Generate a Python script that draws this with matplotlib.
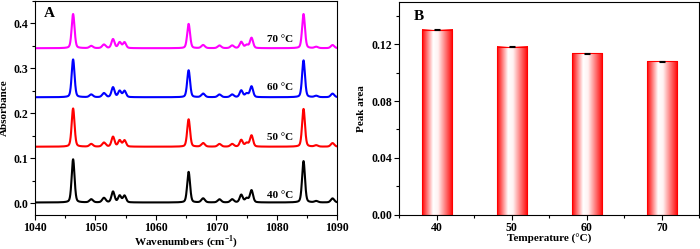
import numpy as np
import matplotlib
matplotlib.use('Agg')
import matplotlib.pyplot as plt
from matplotlib.colors import LinearSegmentedColormap
from matplotlib.ticker import MultipleLocator

plt.rcParams['font.family'] = 'Liberation Serif'
plt.rcParams['font.weight'] = 'bold'
plt.rcParams['axes.labelweight'] = 'bold'
plt.rcParams['mathtext.fontset'] = 'custom'
plt.rcParams['mathtext.bf'] = 'Liberation Serif:bold'
plt.rcParams['mathtext.rm'] = 'Liberation Serif:bold'

# panel A: peak table (cm-1, absorbance above baseline)
centers = [1046.3, 1049.3, 1051.4, 1052.9, 1054.0, 1054.8, 1065.4, 1067.8,
           1070.5, 1072.6, 1074.1, 1075.0, 1075.8, 1084.4, 1086.5, 1089.2]
widths = [0.28, 0.34, 0.34, 0.3, 0.3, 0.3, 0.28, 0.34,
          0.34, 0.34, 0.3, 0.32, 0.3, 0.28, 0.34, 0.34]
temps = ['40 °C', '50 °C', '60 °C', '70 °C']
colors = ['black', '#ff0000', '#0000ff', '#ff00ff']
baselines = [0.002, 0.126, 0.236, 0.345]
heights = [
    [0.096, 0.007, 0.010, 0.024, 0.015, 0.015, 0.068, 0.009, 0.007, 0.007, 0.017, 0.009, 0.027, 0.092, 0.003, 0.009],
    [0.085, 0.006, 0.009, 0.022, 0.014, 0.014, 0.061, 0.008, 0.006, 0.006, 0.015, 0.008, 0.025, 0.084, 0.003, 0.008],
    [0.084, 0.006, 0.009, 0.022, 0.014, 0.014, 0.060, 0.008, 0.006, 0.006, 0.015, 0.008, 0.024, 0.082, 0.003, 0.008],
    [0.076, 0.005, 0.008, 0.020, 0.013, 0.013, 0.054, 0.007, 0.006, 0.006, 0.014, 0.007, 0.023, 0.076, 0.003, 0.007],
]
label_y = [0.012, 0.142, 0.252, 0.358]

# panel B
bar_temps = [40, 50, 60, 70]
peak_area = [0.1304, 0.1184, 0.1136, 0.1080]
peak_err = [0.0004, 0.0004, 0.0004, 0.0004]

fig = plt.figure(figsize=(7, 2.49), dpi=100)
axA = fig.add_axes([0.050, 0.138, 0.432, 0.858])
axB = fig.add_axes([0.570, 0.138, 0.429, 0.855])

wn = np.linspace(1040, 1090, 3000)
for h, b, c, t, ly in zip(heights, baselines, colors, temps, label_y):
    y = np.full_like(wn, b)
    for x0, g, a in zip(centers, widths, h):
        # pseudo-Voigt shape
        lor = g**2 / ((wn - x0)**2 + g**2)
        gau = np.exp(-np.log(2) * (wn - x0)**2 / g**2)
        y += a * (0.3 * lor + 0.7 * gau)
    axA.plot(wn, y, color=c, lw=1.5)
    axA.text(1078.3, ly, t, fontsize=8, fontweight='bold')

axA.set_xlim(1040, 1090)
axA.set_ylim(-0.025, 0.45)
axA.xaxis.set_major_locator(MultipleLocator(10))
axA.xaxis.set_minor_locator(MultipleLocator(5))
axA.yaxis.set_major_locator(MultipleLocator(0.1))
axA.yaxis.set_minor_locator(MultipleLocator(0.05))
axA.set_xlabel('Wavenumbers (cm$^{\\mathbf{-1}}$)', fontsize=8, labelpad=-0.5)
axA.set_ylabel('Absorbance', fontsize=8, labelpad=0)
axA.yaxis.set_label_coords(-0.085, 0.5)
axA.text(0.03, 0.97, 'A', transform=axA.transAxes, fontsize=11, fontweight='bold', va='top')

cmap = LinearSegmentedColormap.from_list(
    'rw', [(0, '#ff0000'), (0.36, '#ffffff'), (0.52, '#fff2f2'), (1, '#ff0000')])
grad = np.linspace(0, 1, 256).reshape(1, -1)
bw = 4.0
for x, v in zip(bar_temps, peak_area):
    axB.imshow(grad, cmap=cmap, aspect='auto', extent=[x - bw/2, x + bw/2, 0, v], zorder=1)
bars = axB.bar(bar_temps, peak_area, width=bw, facecolor='none', edgecolor='#ff0000', lw=0.8, zorder=2)
axB.errorbar(bar_temps, peak_area, yerr=peak_err, fmt='none', ecolor='black', elinewidth=0.8, capsize=2, capthick=0.8, zorder=3)
axB.set_xlim(35, 75)
axB.set_ylim(0, 0.15)
axB.xaxis.set_major_locator(MultipleLocator(10))
axB.xaxis.set_minor_locator(MultipleLocator(5))
axB.yaxis.set_major_locator(MultipleLocator(0.04))
axB.yaxis.set_minor_locator(MultipleLocator(0.02))
axB.yaxis.set_major_formatter(matplotlib.ticker.FormatStrFormatter('%.2f'))
axB.set_xlabel('Temperature (°C)', fontsize=8, labelpad=0)
axB.set_ylabel('Peak area', fontsize=8, labelpad=4)
axB.text(0.05, 0.96, 'B', transform=axB.transAxes, fontsize=11, fontweight='bold', va='top')

for ax in (axA, axB):
    for s in ax.spines.values():
        s.set_linewidth(0.8)
    ax.tick_params(which='both', direction='out', width=0.8, labelsize=8.5, pad=1.5)
    ax.tick_params(which='major', length=3.5)
    ax.tick_params(which='minor', length=2)

fig.savefig('out.png', dpi=100)
